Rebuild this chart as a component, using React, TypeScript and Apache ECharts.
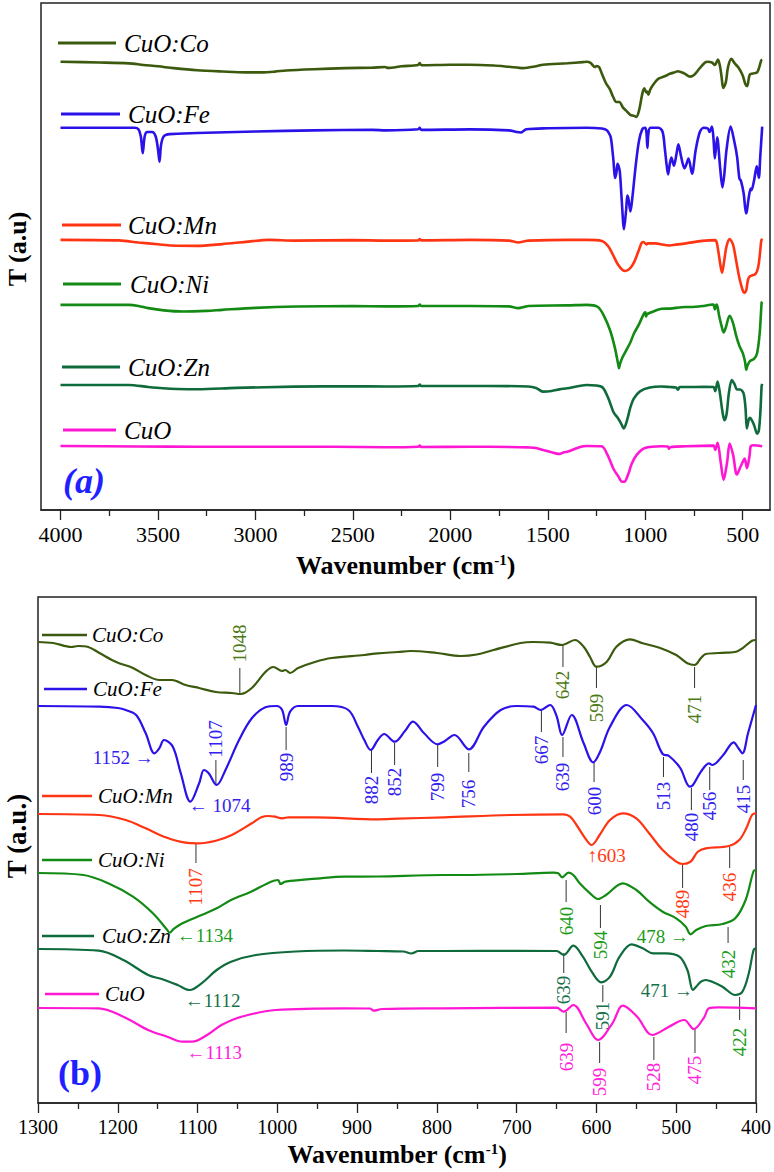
import React, { useEffect, useRef } from "react";
import * as echarts from "echarts";

type Pt = [number, number];

const FONT = "Liberation Serif, serif";

const SAMPLE_NAMES = ["CuO:Co", "CuO:Fe", "CuO:Mn", "CuO:Ni", "CuO:Zn", "CuO"];
const LINE_COLORS = ["#3b5a0e", "#2b12e8", "#ff3412", "#138a13", "#0f6b3c", "#ff17d4"];
const NOTE_COLORS = ["#4d7a14", "#3322ee", "#ff3a14", "#1a9c1a", "#17704a", "#ff22d8"];

// relative transmittance (a.u.), wavenumber in cm-1
const coT: Pt[] = [
  [4000, 0], [3800, -0.7], [3650, -1.5], [3575, -3], [3500, -4.3], [3420, -6], [3300, -8], [3170, -9.2],
  [3050, -10], [2967, -10], [2900, -9.3], [2842, -8.2], [2700, -7], [2537, -6], [2400, -5.5], [2335, -5],
  [2320, -5.8], [2250, -4.3], [2165, -3], [2157, -1.2], [2148, -3.3], [2000, -2.8], [1904, -2.8], [1778, -3.5],
  [1700, -4.7], [1626, -6], [1560, -4.2], [1525, -2.8], [1400, -1.4], [1320, -0.3], [1300, 0], [1281, -1],
  [1258, -5], [1250, -4], [1237, -5], [1223, -11], [1202, -20], [1181, -26], [1165, -33], [1148, -38],
  [1132, -38], [1115, -43], [1098, -46], [1077, -50], [1057, -51], [1046, -52], [1032, -46], [1015, -30],
  [1005, -25], [994, -29], [990, -28], [984, -31], [974, -26], [953, -20], [932, -16], [891, -13],
  [874, -11.3], [849, -10], [833, -9], [800, -11], [770, -14], [750, -12.5], [729, -8], [695, -1],
  [679, 0], [658, -0.7], [643, -3], [627, 2], [616, -4.7], [608, -15], [600, -24.7], [587, -19.7],
  [575, -4.7], [558, 2.7], [542, -1.3], [521, -5.7], [500, -13], [486, -21.3], [477, -23], [469, -16],
  [463, -12], [438, -10.7], [425, -9.7], [417, -6.3], [405, 1.3], [400, 2],
];

const feT: Pt[] = [
  [4000, 0], [3700, 0], [3620, 0], [3600, -1.5], [3588, -8], [3578, -24], [3568, -8], [3555, -4],
  [3530, -4], [3512, -8], [3500, -20], [3492, -32], [3484, -16], [3470, -8], [3440, -6], [3300, -5],
  [3000, -3.5], [2700, -2.5], [2400, -2], [2330, -2.5], [2165, -1.5], [2157, 0], [2150, -2], [1900, -1.5],
  [1700, -2.5], [1660, -4], [1640, -4.5], [1610, -1.5], [1500, -0.5], [1300, 0], [1223, -0.7], [1200, -2],
  [1190, -4], [1177, -9], [1165, -27.3], [1154, -47.3], [1148, -42.3], [1142, -34], [1131, -40.7],
  [1121, -67.3], [1109, -95.7], [1098, -77.3], [1092, -64], [1086, -67.3], [1076, -79], [1065, -64],
  [1048, -34], [1032, -12.3], [1015, -1.3], [1001, 0], [994, -4], [989, -19], [984, -5.7], [974, 0],
  [932, 0], [911, -4], [899, -20.7], [891, -34], [883, -44], [874, -34], [866, -28], [853, -35.7],
  [840, -25], [830, -15.7], [816, -27.3], [799, -38.3], [790, -35], [778, -29], [760, -43.3], [741, -20.7],
  [720, -4], [700, 0], [679, -0.7], [670, -4], [658, 1], [650, -10], [643, -29], [631, -9], [616, -37.3],
  [604, -56.3], [595, -45], [583, -20.7], [562, 1], [542, -14], [529, -27.3], [517, -48], [509, -50],
  [495, -62], [483, -80.7], [479, -79], [469, -65.7], [459, -57.3], [455, -59], [441, -49], [428, -36.3],
  [422, -42.3], [417, -47.3], [410, -27.3], [400, 1],
];

const mnT: Pt[] = [
  [4000, 0], [3700, -0.5], [3600, -2.5], [3500, -4.2], [3430, -5.4], [3300, -5.7], [3170, -4], [3050, -1.9],
  [2930, 0], [2800, -0.7], [2500, -0.3], [2330, -0.7], [2165, -0.5], [2157, 0.8], [2150, -0.5], [1900, 0],
  [1700, -0.7], [1650, -2.5], [1620, -1.4], [1600, -0.7], [1400, 0], [1300, 0], [1223, -1], [1190, -6],
  [1165, -14.3], [1140, -23.3], [1115, -28.7], [1100, -29.3], [1077, -26.7], [1057, -21], [1032, -9.3],
  [1020, -3.3], [1011, -2], [1003, -2.7], [994, -4.3], [986, -3.3], [953, -3.3], [874, -5.3], [849, -4.7],
  [791, -3.3], [708, -1], [641, -0.3], [633, -2.7], [625, -11], [614, -24.3], [606, -31], [596, -21],
  [583, -6], [567, 0.7], [550, -4.3], [534, -19.3], [517, -36], [500, -47.7], [492, -50], [482, -47.7],
  [473, -37.7], [463, -34.3], [434, -32], [421, -26], [412, -14], [405, -1], [400, 1],
];

const niT: Pt[] = [
  [4000, 0], [3650, 0], [3600, -1], [3550, -3.1], [3470, -5.2], [3372, -6.3], [3250, -5.7], [3170, -4.7],
  [3000, -2.8], [2790, -1.6], [2500, -1.1], [2330, -1.4], [2165, -1], [2157, 0.3], [2150, -1], [1900, -1],
  [1700, -1.4], [1651, -3.1], [1620, -1.9], [1600, -1], [1400, -0.5], [1300, 0], [1243, -2], [1212, -10.3],
  [1181, -23.7], [1156, -40.3], [1138, -57], [1135, -59.7], [1130, -56], [1119, -50.3], [1095, -42],
  [1076, -35.3], [1058, -27], [1033, -18.7], [1008, -8.7], [999, -7], [996, -11], [990, -8.7], [946, -5.3],
  [916, -3.7], [874, -3.5], [792, -2], [767, -2], [700, -1], [654, 0.3], [648, -0.3], [643, -4.3],
  [635, 0.3], [629, -2], [621, -10.3], [608, -20.3], [598, -26], [588, -22], [567, -10.3], [550, -17],
  [534, -28.7], [517, -38.7], [500, -45.3], [488, -53.7], [482, -61.3], [475, -57], [463, -53], [442, -51],
  [426, -45.3], [413, -27], [403, 2], [400, 3],
];

const znT: Pt[] = [
  [4000, 0], [3650, 0], [3550, -1.9], [3474, -3.1], [3400, -3.8], [3297, -4.1], [3100, -2.8], [2800, -1.6],
  [2500, -1.2], [2330, -1.4], [2165, -1], [2157, 0.3], [2150, -1], [1800, -1], [1600, -1.4], [1560, -2.8],
  [1525, -6.3], [1480, -5.7], [1440, -4.2], [1400, -3.1], [1340, -1], [1300, 0], [1224, -1.7], [1193, -11],
  [1162, -26], [1144, -30.3], [1125, -36], [1110, -41], [1095, -34.3], [1076, -21], [1058, -12.7],
  [1027, -6], [977, -2.5], [916, -1.5], [874, -2], [842, -2.5], [832, -4.5], [823, -2], [791, -2],
  [700, -1.8], [650, -2], [641, -6], [629, 3.3], [617, -7.7], [606, -22.7], [594, -33.3], [583, -27.7],
  [571, -7.7], [556, 4.7], [542, 0.7], [529, -4.3], [513, -4.3], [496, -7.7], [486, -21], [479, -41],
  [475, -37.7], [469, -32.7], [463, -31], [455, -32.7], [442, -37.7], [426, -46], [417, -42.7],
  [409, -24.3], [403, -1], [400, 1],
];

const cuoT: Pt[] = [
  [4000, 0], [3600, -0.5], [3300, -0.7], [2900, -0.7], [2600, -0.7], [2330, -1.2], [2165, -0.7], [2157, 0.3],
  [2150, -1], [1900, -0.7], [1700, -1], [1600, -1.4], [1560, -1.9], [1525, -3.8], [1500, -5], [1460, -7],
  [1440, -7.5], [1420, -6.2], [1400, -5.4], [1375, -3.8], [1330, -0.7], [1300, 0], [1224, -0.3],
  [1193, -8.7], [1162, -22], [1138, -28.7], [1119, -33.7], [1107, -33.7], [1088, -27], [1070, -17],
  [1045, -8.7], [1002, -2], [916, -0.3], [884, -0.5], [879, -2.7], [869, -1], [792, -0.3], [650, 0.3],
  [641, -3.7], [629, 3], [613, -15.3], [598, -32], [580, -15.3], [567, 2.3], [549, -8.7], [530, -27],
  [509, -18.7], [490, -12], [478, -21], [465, -9.3], [459, -0.3], [447, 0.7], [400, -0.3],
];

const SPECTRA = [coT, feT, mnT, niT, znT, cuoT];

// vertical stacking offsets (a.u.) for panel (a) and panel (b)
const OFFSET_A = [422.6, 360.4, 254.7, 193.4, 117.9, 60.4];
const OFFSET_B = [461, 397, 289, 230, 154, 95];

const TICKS_A = [500, 1000, 1500, 2000, 2500, 3000, 3500, 4000];
const MINOR_TICKS_A = [750, 1250, 1750, 2250, 2750, 3250, 3750];

// peak labels in panel (b): text, colour index, wavenumber, line from, line to, text position, mode
type Note = [string, number, number, number | null, number | null, number, "v" | "l" | "r"];
const NOTES: Note[] = [
  ["1048", 0, 1047, 435, 410, 459.5, "v"],
  ["642", 0, 642, 458, 436, 418, "v"],
  ["599", 0, 600, 436, 415, 395, "v"],
  ["471", 0, 477, 436, 415, 394, "v"],
  ["1152 \u2192", 1, 1155, null, null, 346, "r"],
  ["1107", 1, 1077, 343, 318, 364, "v"],
  ["\u2190 1074", 1, 1111, null, null, 298, "l"],
  ["989", 1, 989, 376, 353, 336, "v"],
  ["882", 1, 882, 353, 330, 313, "v"],
  ["852", 1, 853, 360, 338, 321, "v"],
  ["799", 1, 799, 358, 336, 316, "v"],
  ["756", 1, 760, 350, 331, 309, "v"],
  ["667", 1, 669, 393, 371, 353, "v"],
  ["639", 1, 642, 366, 346, 326, "v"],
  ["600", 1, 603, 340, 321, 302, "v"],
  ["513", 1, 516, 346, 326, 307, "v"],
  ["480", 1, 481, 315, 293, 276, "v"],
  ["456", 1, 458, 336, 313, 297, "v"],
  ["415", 1, 416, 343, 323, 304, "v"],
  ["1107", 2, 1102, 260, 240, 216, "v"],
  ["\u2191603", 2, 611, null, null, 248, "l"],
  ["489", 2, 492, 238, 215, 199, "v"],
  ["436", 2, 433, 256, 235, 216, "v"],
  ["\u21901134", 3, 1126, null, null, 168, "l"],
  ["640", 3, 638, 223, 201, 182, "v"],
  ["594", 3, 595, 198, 175, 158, "v"],
  ["478 \u2192", 3, 484, null, null, 167, "r"],
  ["432", 3, 435, 176, 160, 139, "v"],
  ["\u21901112", 4, 1116, null, null, 103, "l"],
  ["639", 4, 641, 150, 130, 113, "v"],
  ["591", 4, 592, 118, 101, 87, "v"],
  ["471 \u2192", 4, 479, null, null, 113, "r"],
  ["422", 3, 420.5, 106, 83, 61, "v"],
  ["\u21901113", 5, 1114, null, null, 51, "l"],
  ["639", 5, 638, 91, 70, 46, "v"],
  ["599", 5, 596, 61, 40, 21, "v"],
  ["528", 5, 528, 66, 43, 26, "v"],
  ["475", 5, 476.5, 75, 50, 33, "v"],
];

// legend layout (pixels): line x1, line x2, y, text x
const LEGEND_A = [
  [58, 116, 43, 124], [61, 120, 114, 128], [62, 121, 225, 128],
  [63, 121, 284, 130], [62, 120, 367, 128], [63, 116, 430, 124],
];
const LEGEND_B = [
  [42, 87, 635, 92], [44, 87, 689, 93], [42, 92, 796, 98],
  [42, 92, 860, 98], [42, 94, 936, 102], [45, 99, 994, 105],
];

const AXIS_COLOR = "#222";

export default function App() {
  const ref = useRef<HTMLDivElement>(null);
  useEffect(() => {
    document.body.style.margin = "0";
    const chart = echarts.init(ref.current!, null, { renderer: "svg" });

    const xName = "Wavenumber (cm{sup|-1})";
    const nameStyle = {
      fontFamily: FONT,
      fontWeight: "bold",
      fontSize: 26,
      color: "#000",
      rich: { sup: { fontFamily: FONT, fontWeight: "bold", fontSize: 15, verticalAlign: "top", color: "#000" } },
    };
    const plain = (v: number) => String(v);

    const seriesA = SPECTRA.map((s, i) => ({
      type: "line",
      name: SAMPLE_NAMES[i],
      xAxisIndex: 0,
      yAxisIndex: 0,
      data: s.map(([w, t]) => [w, OFFSET_A[i] + t]),
      showSymbol: false,
      smooth: 0.3,
      lineStyle: { color: LINE_COLORS[i], width: 2.6 },
      silent: true,
    }));
    const seriesB = SPECTRA.map((s, i) => ({
      type: "line",
      name: SAMPLE_NAMES[i] + " (b)",
      xAxisIndex: 2,
      yAxisIndex: 1,
      data: s.filter(([w]) => w <= 1300).map(([w, t]) => [w, OFFSET_B[i] + t]),
      showSymbol: false,
      smooth: 0.35,
      lineStyle: { color: LINE_COLORS[i], width: 2.2 },
      silent: true,
    }));

    chart.setOption({
      animation: false,
      textStyle: { fontFamily: FONT },
      grid: [
        { left: 41, top: 3, width: 729, height: 507, show: true, borderColor: AXIS_COLOR, borderWidth: 1.5, backgroundColor: "transparent" },
        { left: 38, top: 597, width: 720, height: 506, show: true, borderColor: AXIS_COLOR, borderWidth: 1.5, backgroundColor: "transparent" },
      ],
      xAxis: [
        {
          type: "value", gridIndex: 0, min: 360, max: 4100, inverse: true, position: "bottom",
          axisLine: { show: true, lineStyle: { color: AXIS_COLOR, width: 1.5 } },
          axisTick: { show: true, customValues: TICKS_A, length: 10, lineStyle: { color: AXIS_COLOR, width: 1.3 } },
          axisLabel: { customValues: TICKS_A, formatter: plain, fontFamily: FONT, fontSize: 22, color: "#000", margin: 13 },
          splitLine: { show: false },
          name: xName, nameLocation: "middle", nameGap: 42, nameTextStyle: nameStyle,
        },
        {
          type: "value", gridIndex: 0, min: 360, max: 4100, inverse: true, position: "bottom",
          axisLine: { show: false },
          axisTick: { show: true, customValues: MINOR_TICKS_A, length: 6, lineStyle: { color: AXIS_COLOR, width: 1.3 } },
          axisLabel: { show: false },
          splitLine: { show: false },
        },
        {
          type: "value", gridIndex: 1, min: 400, max: 1300, interval: 100, inverse: true, position: "bottom",
          axisLine: { show: true, lineStyle: { color: AXIS_COLOR, width: 1.5 } },
          axisTick: { show: true, length: 10, lineStyle: { color: AXIS_COLOR, width: 1.3 } },
          minorTick: { show: true, splitNumber: 2, length: 6, lineStyle: { color: AXIS_COLOR, width: 1.3 } },
          axisLabel: { formatter: plain, fontFamily: FONT, fontSize: 20, color: "#000", margin: 14 },
          splitLine: { show: false },
          name: xName, nameLocation: "middle", nameGap: 38, nameTextStyle: nameStyle,
        },
      ],
      yAxis: [
        { type: "value", gridIndex: 0, min: 0, max: 478, axisLine: { show: false }, axisTick: { show: false }, axisLabel: { show: false }, splitLine: { show: false } },
        { type: "value", gridIndex: 1, min: 0, max: 506, axisLine: { show: false }, axisTick: { show: false }, axisLabel: { show: false }, splitLine: { show: false } },
      ],
      series: [...seriesA, ...seriesB],
    });

    const txt = (
      x: number, y: number, text: string, size: number, fill: string,
      opts: { italic?: boolean; bold?: boolean; align?: string; rotation?: number } = {}
    ) => ({
      type: "text", x, y, rotation: opts.rotation || 0,
      style: {
        text, fill,
        fontFamily: FONT, fontSize: size,
        fontStyle: opts.italic ? "italic" : "normal",
        fontWeight: opts.bold ? "bold" : "normal",
        align: opts.align || "left", verticalAlign: "middle",
      },
    });

    const g: any[] = [];
    // legends
    LEGEND_A.forEach(([x1, x2, y, tx], i) => {
      g.push({ type: "line", shape: { x1, y1: y, x2, y2: y }, style: { stroke: LINE_COLORS[i], lineWidth: 3 } });
      g.push(txt(tx, y, SAMPLE_NAMES[i], 25, "#000", { italic: true }));
    });
    LEGEND_B.forEach(([x1, x2, y, tx], i) => {
      g.push({ type: "line", shape: { x1, y1: y, x2, y2: y }, style: { stroke: LINE_COLORS[i], lineWidth: 2.6 } });
      g.push(txt(tx, y, SAMPLE_NAMES[i], 21, "#000", { italic: true }));
    });
    // panel tags and y titles
    g.push(txt(84, 481, "(a)", 36, "#1f1fff", { italic: true, bold: true, align: "center" }));
    g.push(txt(80, 1073, "(b)", 36, "#1f1fff", { bold: true, align: "center" }));
    g.push(txt(17, 249, "T (a.u)", 26, "#000", { bold: true, align: "center", rotation: Math.PI / 2 }));
    g.push(txt(17, 836, "T (a.u.)", 27, "#000", { bold: true, align: "center", rotation: Math.PI / 2 }));

    // peak notes in panel (b)
    const toPx = (w: number, v: number) => chart.convertToPixel({ gridIndex: 1 }, [w, v]) as number[];
    NOTES.forEach(([text, ci, w, l1, l2, ty, mode]) => {
      const color = NOTE_COLORS[ci];
      const [px, py] = toPx(w, ty);
      if (mode === "v") {
        g.push(txt(px, py, text, 19, color, { align: "center", rotation: Math.PI / 2 }));
        if (l1 != null && l2 != null) {
          const a = toPx(w, l1);
          const b = toPx(w, l2);
          g.push({ type: "line", shape: { x1: a[0], y1: a[1], x2: b[0], y2: b[1] }, style: { stroke: "#333", lineWidth: 1 } });
        }
      } else {
        g.push(txt(px, py, text, 19, color, { align: mode === "l" ? "left" : "right" }));
      }
    });

    chart.setOption({ graphic: g });
    return () => chart.dispose();
  }, []);
  return <div ref={ref} style={{ width: 774, height: 1172 }} />;
}
